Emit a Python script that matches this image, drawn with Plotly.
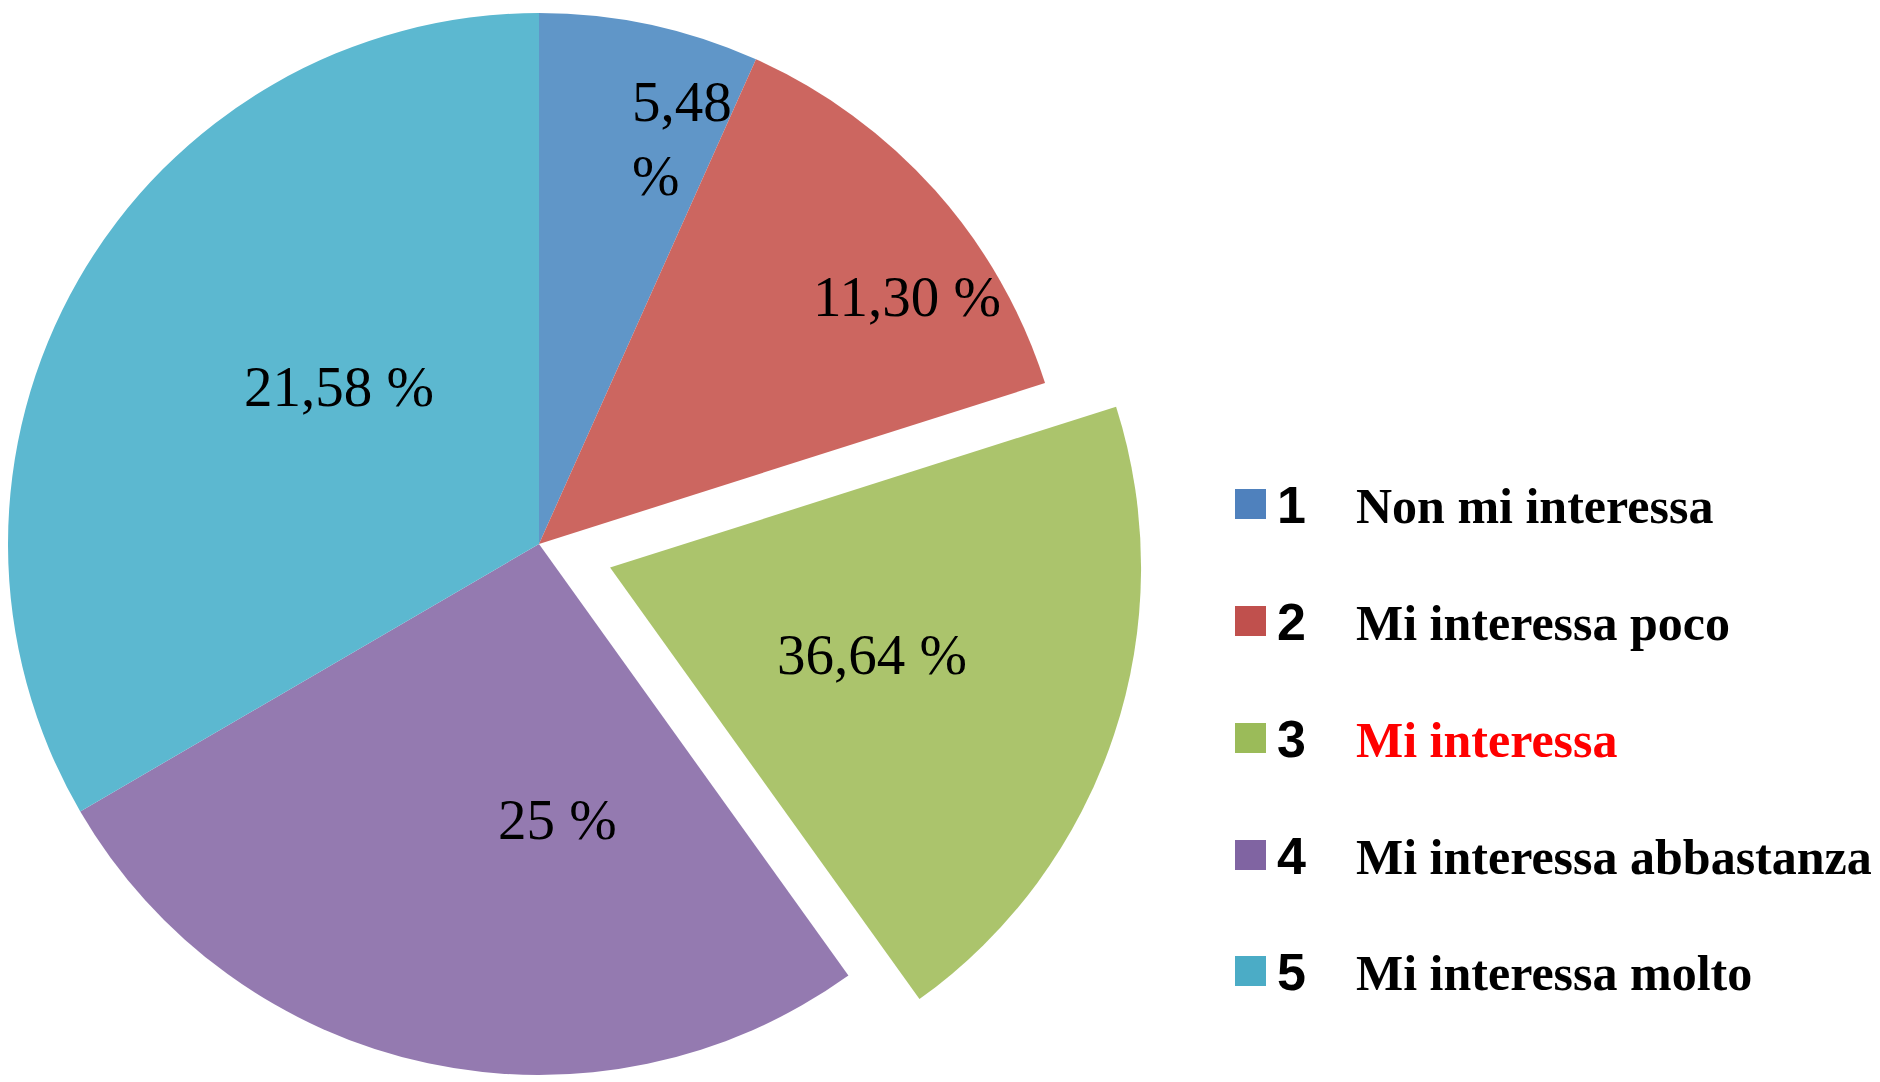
import math
import plotly.graph_objects as go

# ---------------- data ----------------
categories = ["1", "2", "3", "4", "5"]
legend_labels = ["Non mi interessa", "Mi interessa poco", "Mi interessa",
                 "Mi interessa abbastanza", "Mi interessa molto"]
slice_values = [6.7, 13.4, 20.0, 26.5, 33.4]          # slice sizes as drawn
slice_text = ["5,48<br>%", "11,30 %", "36,64 %", "25 %", "21,58 %"]  # printed labels
exploded = [False, False, True, False, False]

# ---------------- style ----------------
W, H = 1880, 1100
PAGE_OFF = 8                      # browser body margin
slice_colors = ["#6096C8", "#CC6660", "#ABC46C", "#947AB0", "#5CB8D0"]
legend_colors = ["#4F81BD", "#C0504D", "#9BBB59", "#8064A2", "#4BACC6"]
label_text_colors = ["#000000", "#000000", "#FF0000", "#000000", "#000000"]
TRANSPARENT = "rgba(0,0,0,0)"

R = 531
cx, cy = 539 - PAGE_OFF, 544 - PAGE_OFF     # pie centre in figure px
PULL = 0.141
label_rfrac = [0.81, 0.835, 0.52, 0.52, 0.48]
label_nudge = [7.3, 7.9, 0.0, -16.0, 8.3]   # degrees
label_size = 57
SERIF = "Liberation Serif"

# slice mid angles (clockwise from 12 o'clock)
total = sum(slice_values)
mids, cum = [], 0.0
for v in slice_values:
    mids.append((cum + v / 2) / total * 360)
    cum += v
ex_i = exploded.index(True)
dx = PULL * R * math.sin(math.radians(mids[ex_i]))
dy = -PULL * R * math.cos(math.radians(mids[ex_i]))


def dom(cxp, cyp):
    return dict(x=[(cxp - R) / W, (cxp + R) / W],
                y=[1 - (cyp + R) / H, 1 - (cyp - R) / H])


common = dict(
    labels=categories, values=slice_values, sort=False, direction="clockwise",
    rotation=0, textinfo="none", hoverinfo="label+text", showlegend=False,
)

fig = go.Figure()
fig.add_trace(go.Pie(
    **common,
    text=slice_text,
    marker=dict(colors=[(TRANSPARENT if e else c) for c, e in zip(slice_colors, exploded)],
                line=dict(width=0)),
    domain=dom(cx, cy),
))
fig.add_trace(go.Pie(
    **common,
    text=slice_text,
    marker=dict(colors=[(c if e else TRANSPARENT) for c, e in zip(slice_colors, exploded)],
                line=dict(width=0)),
    domain=dom(cx + dx, cy + dy),
))

annotations, shapes = [], []
# slice labels, placed along each slice's own angle
for i, t in enumerate(slice_text):
    ccx, ccy = (cx + dx, cy + dy) if exploded[i] else (cx, cy)
    th = math.radians(mids[i] + label_nudge[i])
    r = label_rfrac[i] * R
    x = ccx + r * math.sin(th)
    y = ccy - r * math.cos(th)
    annotations.append(dict(xref="paper", yref="paper", x=x / W, y=1 - y / H,
                            xanchor="center", yanchor="middle", showarrow=False,
                            align="left", text=t,
                            font=dict(family=SERIF, size=label_size, color="black")))

# ---------------- legend (drawn in layout) ----------------
row_y = [504 - PAGE_OFF, 621 - PAGE_OFF, 738 - PAGE_OFF, 855 - PAGE_OFF, 971 - PAGE_OFF]
for i, cat in enumerate(categories):
    y = row_y[i]
    shapes.append(dict(type="rect", xref="paper", yref="paper",
                       x0=1227 / W, x1=1258 / W, y0=1 - (y + 15) / H, y1=1 - (y - 15) / H,
                       fillcolor=legend_colors[i], line=dict(width=0)))
    annotations.append(dict(xref="paper", yref="paper", x=1267 / W, y=1 - (y + 1) / H,
                            xanchor="left", yanchor="middle", showarrow=False,
                            text="<b>" + cat + "</b>",
                            font=dict(family="Liberation Sans", size=52, color="black")))
    annotations.append(dict(xref="paper", yref="paper", x=1346 / W, y=1 - (y + 2) / H,
                            xanchor="left", yanchor="middle", showarrow=False,
                            text="<b>" + legend_labels[i] + "</b>",
                            font=dict(family=SERIF, size=50,
                                      color=label_text_colors[i])))

fig.update_layout(
    width=W, height=H,
    margin=dict(l=0, r=0, t=0, b=0),
    paper_bgcolor="white", plot_bgcolor="white",
    shapes=shapes, annotations=annotations,
)

fig.write_html("out.html")
